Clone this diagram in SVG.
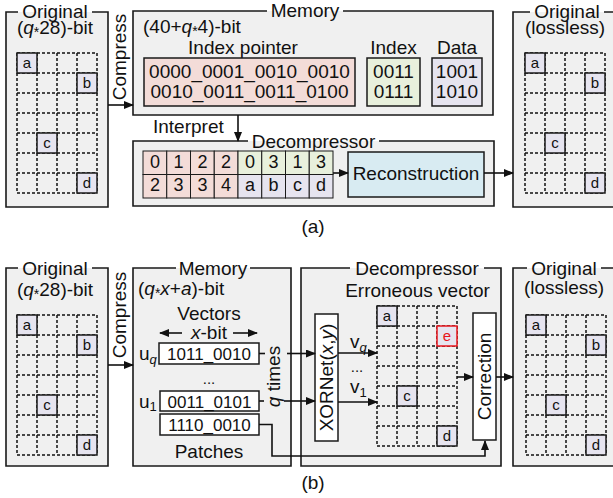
<svg xmlns="http://www.w3.org/2000/svg" xmlns:xlink="http://www.w3.org/1999/xlink" width="613" height="498" viewBox="0 0 613 498">
<style>
text{font-family:"Liberation Sans",Arial,sans-serif;font-size:19px;fill:#111}
.c{text-anchor:middle}
.bx{fill:#f0f0f0;stroke:none}
.bd{fill:none;stroke:#1a1a1a;stroke-width:1.6}
.lc{fill:#e6e4ef;stroke:#1a1a1a;stroke-width:1.5}
.lt{font-size:15px;text-anchor:middle}
.wb{fill:#fff;stroke:#1a1a1a;stroke-width:1.5}
.cl{stroke:#1a1a1a;stroke-width:1}
.pk{fill:#f3dcd8}
.gr{fill:#e8f0dc}
.lv{fill:#e6e4ef}
.ln{fill:none;stroke:#111;stroke-width:1.6}
.ar{marker-end:url(#ah)}
.sm{font-size:17px}
.sub{font-size:13px}
.st{font-size:14px}
.dg{font-size:18px}
</style>
<defs>
<marker id="ah" markerWidth="10" markerHeight="8" refX="9" refY="4" orient="auto" markerUnits="userSpaceOnUse"><path d="M0,0 L10,4 L0,8 z" fill="#111"/></marker>
<path id="grid" d="M0,0H80M0,20H80M0,40H80M0,60H80M0,80H80M0,100H80M0,120H80M0,140H80M0,0V140M20,0V140M40,0V140M60,0V140M80,0V140" fill="none" stroke="#111" stroke-width="1.5" stroke-dasharray="3,2"/>
</defs>

<!-- ===== (a) ===== -->
<g id="a-original">
<rect class="bx" x="6" y="12" width="102" height="195"/>
<path class="bd" d="M92,12H108V207H6V12H18"/>
<text class="c" x="55" y="17.5">Original</text>
<text class="c" x="55" y="34">(<tspan font-style="italic">q</tspan><tspan class="st" dy="3">*</tspan><tspan dy="-3">28)-bit</tspan></text>
<use xlink:href="#grid" x="17" y="53"/>
<rect class="lc" x="17" y="53" width="20" height="20"/><text class="lt" x="27" y="68">a</text>
<rect class="lc" x="77" y="73" width="20" height="20"/><text class="lt" x="87" y="88">b</text>
<rect class="lc" x="37" y="133" width="20" height="20"/><text class="lt" x="47" y="148">c</text>
<rect class="lc" x="77" y="173" width="20" height="20"/><text class="lt" x="87" y="188">d</text>
</g>

<g id="a-memory">
<rect class="bx" x="133" y="11" width="360" height="104"/>
<path class="bd" d="M343,11H493V115H133V11H267"/>
<text class="c" x="305" y="17">Memory</text>
<text x="143" y="33">(40+<tspan font-style="italic">q</tspan><tspan class="st" dy="3">*</tspan><tspan dy="-3">4)-bit</tspan></text>
<text class="c" x="243" y="54">Index pointer</text>
<rect class="pk" x="144" y="58" width="211" height="48" stroke="#1a1a1a" stroke-width="1.5"/>
<text class="c" x="249.5" y="78">0000_0001_0010_0010</text>
<text class="c" x="249.5" y="98">0010_0011_0011_0100</text>
<text class="c" x="393.5" y="54">Index</text>
<rect class="gr" x="367" y="58" width="53" height="48" stroke="#1a1a1a" stroke-width="1.5"/>
<text class="c" x="393.5" y="78">0011</text>
<text class="c" x="393.5" y="98">0111</text>
<text class="c" x="457" y="54">Data</text>
<rect class="lv" x="432" y="58" width="50" height="48" stroke="#1a1a1a" stroke-width="1.5"/>
<text class="c" x="457" y="78">1001</text>
<text class="c" x="457" y="98">1010</text>
</g>

<g id="a-decompressor">
<rect class="bx" x="133" y="141" width="361" height="65"/>
<path class="bd" d="M379,141H494V206H133V141H248"/>
<text class="c" x="313.5" y="147.5">Decompressor</text>
<g class="cl">
<rect class="pk" x="143" y="151" width="23.75" height="23.5"/>
<rect class="pk" x="166.75" y="151" width="23.75" height="23.5"/>
<rect class="pk" x="190.5" y="151" width="23.75" height="23.5"/>
<rect class="pk" x="214.25" y="151" width="23.75" height="23.5"/>
<rect class="gr" x="238" y="151" width="23.75" height="23.5"/>
<rect class="gr" x="261.75" y="151" width="23.75" height="23.5"/>
<rect class="gr" x="285.5" y="151" width="23.75" height="23.5"/>
<rect class="gr" x="309.25" y="151" width="23.75" height="23.5"/>
<rect class="pk" x="143" y="174.5" width="23.75" height="23.5"/>
<rect class="pk" x="166.75" y="174.5" width="23.75" height="23.5"/>
<rect class="pk" x="190.5" y="174.5" width="23.75" height="23.5"/>
<rect class="pk" x="214.25" y="174.5" width="23.75" height="23.5"/>
<rect class="lv" x="238" y="174.5" width="23.75" height="23.5"/>
<rect class="lv" x="261.75" y="174.5" width="23.75" height="23.5"/>
<rect class="lv" x="285.5" y="174.5" width="23.75" height="23.5"/>
<rect class="lv" x="309.25" y="174.5" width="23.75" height="23.5"/>
</g>
<text class="c dg" x="154.9" y="167.5">0</text>
<text class="c dg" x="178.6" y="167.5">1</text>
<text class="c dg" x="202.4" y="167.5">2</text>
<text class="c dg" x="226.1" y="167.5">2</text>
<text class="c dg" x="249.9" y="167.5">0</text>
<text class="c dg" x="273.6" y="167.5">3</text>
<text class="c dg" x="297.4" y="167.5">1</text>
<text class="c dg" x="321.1" y="167.5">3</text>
<text class="c dg" x="154.9" y="191">2</text>
<text class="c dg" x="178.6" y="191">3</text>
<text class="c dg" x="202.4" y="191">3</text>
<text class="c dg" x="226.1" y="191">4</text>
<text class="c dg" x="249.9" y="191">a</text>
<text class="c dg" x="273.6" y="191">b</text>
<text class="c dg" x="297.4" y="191">c</text>
<text class="c dg" x="321.1" y="191">d</text>
</g>

<g id="a-reconstruction">
<rect x="348" y="152" width="136" height="45" fill="#d8ebf2" stroke="#1a1a1a" stroke-width="1.5"/>
<text class="c" x="416" y="180">Reconstruction</text>
</g>

<g id="a-lossless">
<rect class="bx" x="513" y="12" width="107" height="195"/>
<path class="bd" d="M604,12H620M620,207H513V12H530"/>
<text class="c" x="567" y="17.5">Original</text>
<text class="c" x="565" y="34">(lossless)</text>
<use xlink:href="#grid" x="525" y="53"/>
<rect class="lc" x="525" y="53" width="20" height="20"/><text class="lt" x="535" y="68">a</text>
<rect class="lc" x="585" y="73" width="20" height="20"/><text class="lt" x="595" y="88">b</text>
<rect class="lc" x="545" y="133" width="20" height="20"/><text class="lt" x="555" y="148">c</text>
<rect class="lc" x="585" y="173" width="20" height="20"/><text class="lt" x="595" y="188">d</text>
</g>

<g id="a-connectors">
<line class="ln ar" x1="108" y1="105" x2="133" y2="105"/>
<text transform="translate(126,57) rotate(-90)" class="c">Compress</text>
<line class="ln ar" x1="238" y1="115" x2="238" y2="141"/>
<text x="153" y="133">Interpret</text>
<line class="ln ar" x1="333" y1="173" x2="348" y2="173"/>
<line class="ln ar" x1="484" y1="173" x2="513" y2="173"/>
</g>
<text class="c" x="313" y="233">(a)</text>

<!-- ===== (b) ===== -->
<g id="b-original">
<rect class="bx" x="6" y="268" width="102" height="198"/>
<path class="bd" d="M92,268H108V466H6V268H18"/>
<text class="c" x="55" y="274.5">Original</text>
<text class="c" x="55" y="296">(<tspan font-style="italic">q</tspan><tspan class="st" dy="3">*</tspan><tspan dy="-3">28)-bit</tspan></text>
<use xlink:href="#grid" x="17" y="315"/>
<rect class="lc" x="17" y="315" width="20" height="20"/><text class="lt" x="27" y="330">a</text>
<rect class="lc" x="77" y="335" width="20" height="20"/><text class="lt" x="87" y="350">b</text>
<rect class="lc" x="37" y="395" width="20" height="20"/><text class="lt" x="47" y="410">c</text>
<rect class="lc" x="77" y="435" width="20" height="20"/><text class="lt" x="87" y="450">d</text>
</g>

<g id="b-memory">
<rect class="bx" x="133" y="268" width="158" height="198"/>
<path class="bd" d="M250,268H291V466H133V268H176"/>
<text class="c" x="213" y="274.5">Memory</text>
<text x="138" y="295">(<tspan font-style="italic">q</tspan><tspan class="st" dy="3">*</tspan><tspan dy="-3" font-style="italic">x</tspan>+<tspan font-style="italic">a</tspan>)-bit</text>
<text class="c" x="209" y="320">Vectors</text>
<text class="c" x="209" y="339"><tspan font-style="italic">x</tspan>-bit</text>
<line class="ln ar" x1="182" y1="333" x2="160" y2="333"/>
<line class="ln ar" x1="233" y1="333" x2="257" y2="333"/>
<rect class="wb" x="159" y="343" width="100" height="21"/>
<text class="c sm" x="209" y="360">1011_0010</text>
<text x="139" y="360">u<tspan class="sub" font-style="italic" dy="4">q</tspan></text>
<text class="c" x="209" y="384" style="font-size:15px">...</text>
<rect class="wb" x="160" y="391" width="99" height="20"/>
<text class="c sm" x="209.5" y="407.5">0011_0101</text>
<text x="139" y="408">u<tspan class="sub" dy="3">1</tspan></text>
<rect class="wb" x="160" y="414" width="99" height="21"/>
<text class="c sm" x="209.5" y="431">1110_0010</text>
<text class="c" x="209" y="458">Patches</text>
</g>

<g id="b-decompressor">
<rect class="bx" x="301" y="268" width="200" height="198"/>
<path class="bd" d="M484,268H501V466H301V268H350"/>
<text class="c" x="417" y="274.5">Decompressor</text>
<text class="c" x="417.5" y="297">Erroneous vector</text>
<g id="b-xornet">
<rect class="wb" x="315" y="314" width="23" height="127"/>
<text transform="translate(333,377.5) rotate(-90)" class="c">XORNet(<tspan font-style="italic">x</tspan>,<tspan font-style="italic">y</tspan>)</text>
</g>
<text x="350" y="348">v<tspan class="sub" font-style="italic" dy="4">q</tspan></text>
<text class="c" x="357" y="372" style="font-size:15px">...</text>
<text x="350" y="393">v<tspan class="sub" dy="4">1</tspan></text>
<g id="b-erroneous">
<use xlink:href="#grid" x="377" y="306"/>
<rect class="lc" x="377" y="306" width="20" height="20"/><text class="lt" x="387" y="321">a</text>
<rect class="lc" x="437" y="326" width="20" height="20" style="stroke:#e8141c"/><text class="lt" x="447" y="341" style="fill:#e8141c">e</text>
<rect class="lc" x="397" y="386" width="20" height="20"/><text class="lt" x="407" y="401">c</text>
<rect class="lc" x="437" y="426" width="20" height="20"/><text class="lt" x="447" y="441">d</text>
</g>
<g id="b-correction">
<rect class="wb" x="473" y="313" width="23" height="127"/>
<text transform="translate(491,376.5) rotate(-90)" class="c">Correction</text>
</g>
</g>

<g id="b-lossless">
<rect class="bx" x="513" y="268" width="107" height="198"/>
<path class="bd" d="M601,268H620M620,466H513V268H527"/>
<text class="c" x="564" y="274.5">Original</text>
<text class="c" x="564" y="294">(lossless)</text>
<use xlink:href="#grid" x="526" y="315"/>
<rect class="lc" x="526" y="315" width="20" height="20"/><text class="lt" x="536" y="330">a</text>
<rect class="lc" x="586" y="335" width="20" height="20"/><text class="lt" x="596" y="350">b</text>
<rect class="lc" x="546" y="395" width="20" height="20"/><text class="lt" x="556" y="410">c</text>
<rect class="lc" x="586" y="435" width="20" height="20"/><text class="lt" x="596" y="450">d</text>
</g>

<g id="b-connectors">
<line class="ln ar" x1="108" y1="365" x2="133" y2="365"/>
<text transform="translate(126,315) rotate(-90)" class="c">Compress</text>
<line class="ln" x1="259" y1="353.5" x2="265" y2="353.5"/>
<line class="ln ar" x1="287" y1="353.5" x2="315" y2="353.5"/>
<line class="ln" x1="259" y1="401" x2="264" y2="401"/>
<line class="ln ar" x1="284" y1="401" x2="315" y2="401"/>
<text transform="translate(280,376.5) rotate(-90)" class="c"><tspan font-style="italic">q</tspan> times</text>
<line class="ln ar" x1="338" y1="353" x2="377" y2="353"/>
<line class="ln ar" x1="338" y1="402" x2="377" y2="402"/>
<line class="ln ar" x1="457" y1="377" x2="473" y2="377"/>
<line class="ln ar" x1="496" y1="377" x2="513" y2="377"/>
<path class="ln ar" d="M259,424.5H272V456H485V441"/>
</g>
<text class="c" x="313" y="489">(b)</text>
</svg>
